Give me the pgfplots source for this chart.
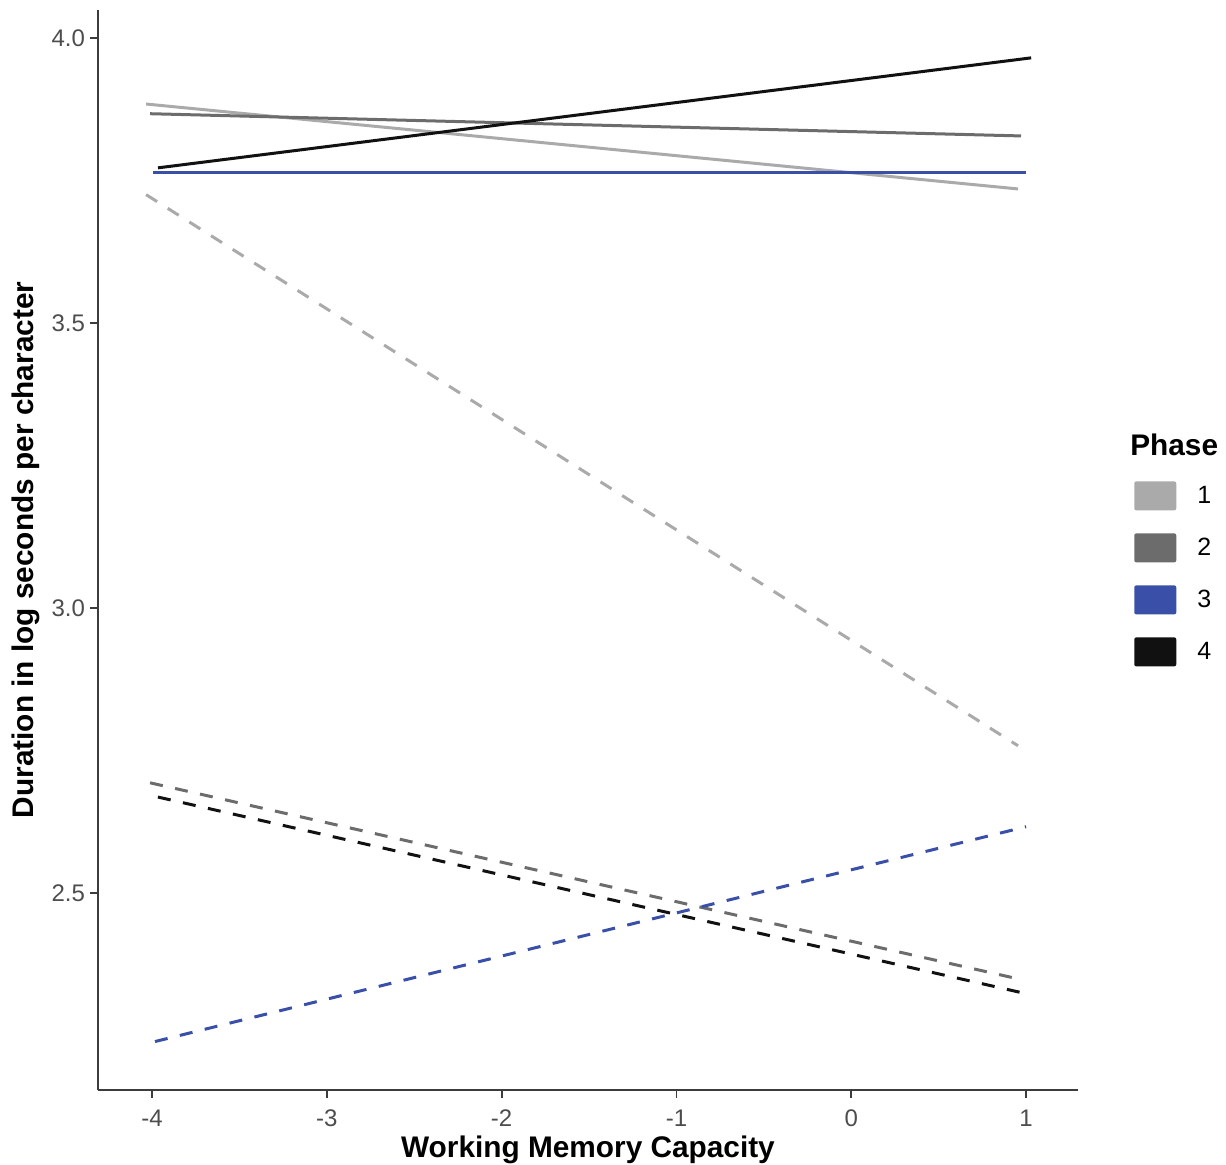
\documentclass[border=0pt]{standalone}
\usepackage{fontspec}
\setmainfont{Liberation Sans}
\usepackage{pgfplots}
\pgfplotsset{compat=1.18}
\definecolor{ph1}{RGB}{170,170,170}
\definecolor{ph2}{RGB}{108,108,108}
\definecolor{ph3}{RGB}{58,80,168}
\definecolor{ph4}{RGB}{17,17,17}
\definecolor{txtgray}{RGB}{77,77,77}
\definecolor{axgray}{RGB}{60,60,60}

\begin{document}
\begin{tikzpicture}
\begin{axis}[
  scale only axis,
  width=490bp, height=540bp,
  xmin=-4.309, xmax=1.297,
  ymin=2.154, ymax=4.049,
  clip=false,
  axis x line*=bottom, axis y line*=left,
  axis line style={-, axgray, line width=0.9bp},
  xtick={-4,-3,-2,-1,0,1},
  ytick={2.5,3,3.5,4},
  tick align=outside,
  major tick length=4bp,
  tick style={axgray, line width=0.9bp},
  /pgf/number format/assume math mode=true,
  ticklabel style={font=\fontsize{12bp}{14bp}\selectfont, text=txtgray},
  yticklabel style={xshift=1bp, /pgf/number format/fixed, /pgf/number format/fixed zerofill, /pgf/number format/precision=1},
  xticklabel style={yshift=-2.5bp},
  xlabel={Working Memory Capacity},
  ylabel={Duration in log seconds per character},
  label style={font=\bfseries\fontsize{14.9bp}{17bp}\selectfont, inner sep=0pt},
  xlabel style={at={(axis description cs:0.5,-0.0417)}, anchor=north},
  ylabel style={at={(axis description cs:-0.059,0.5)}, anchor=south},
  legend style={at={(axis description cs:1.057,0.5639)}, anchor=north west,
    draw=none, fill=none, inner sep=0pt, row sep=11.5bp, column sep=10.5bp,
    font=\fontsize{12.5bp}{14bp}\selectfont, nodes={inner sep=0pt, yshift=4bp}},
  legend cell align=left,
  legend image code/.code={\fill[#1, draw=none, rounded corners=1bp] (0bp,-3bp) rectangle (21bp,11.5bp);},
]
% fitted lines, solid
\addplot[ph1, line width=1.5bp] coordinates {(-4.034,3.884) (0.954,3.735)};
\addlegendentry{1}
\addplot[ph2, line width=1.5bp] coordinates {(-4.011,3.867) (0.971,3.828)};
\addlegendentry{2}
\addplot[ph3, line width=1.5bp] coordinates {(-3.994,3.763) (1.000,3.763)};
\addlegendentry{3}
\addplot[ph4, line width=1.5bp] coordinates {(-3.966,3.772) (1.029,3.965)};
\addlegendentry{4}
% dashed
\addplot[ph1, line width=1.5bp, dash pattern=on 6.5bp off 6.3bp, forget plot] coordinates {(-4.034,3.725) (0.954,2.758)};
\addplot[ph2, line width=1.5bp, dash pattern=on 6.5bp off 6.3bp, forget plot] coordinates {(-4.011,2.693) (0.983,2.347)};
\addplot[ph3, line width=1.5bp, dash pattern=on 6.5bp off 6.3bp, forget plot] coordinates {(-3.983,2.239) (1.000,2.616)};
\addplot[ph4, line width=1.5bp, dash pattern=on 6.5bp off 6.3bp, forget plot] coordinates {(-3.966,2.668) (1.029,2.321)};

\node[anchor=west, inner sep=0pt, font=\bfseries\fontsize{14.9bp}{17bp}\selectfont] at (axis description cs:1.053,0.5972) {Phase};
\end{axis}
\pgfresetboundingbox
\path[use as bounding box] (-49bp,-37.5bp) rectangle (564bp,545bp);
\end{tikzpicture}
\end{document}
